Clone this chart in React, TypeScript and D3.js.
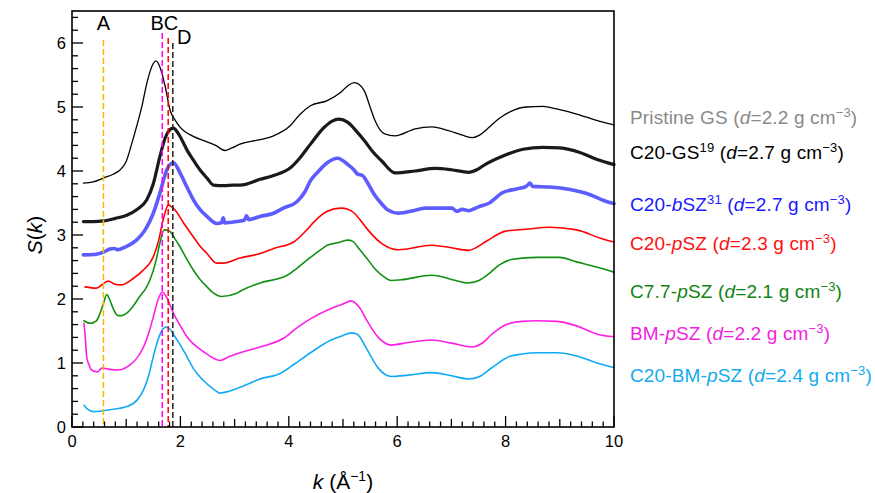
import React from "react";
import * as d3 from "d3";

type P = [number, number];

const pristineGS: P[] = [[0.21,3.81],[0.39,3.83],[0.58,3.89],[0.76,3.95],[0.89,4.02],[1.0,4.15],[1.1,4.42],[1.19,4.69],[1.3,5.05],[1.38,5.37],[1.5,5.68],[1.55,5.72],[1.62,5.63],[1.72,5.32],[1.81,4.95],[1.9,4.8],[1.99,4.69],[2.24,4.54],[2.48,4.46],[2.65,4.4],[2.82,4.32],[2.95,4.36],[3.1,4.42],[3.47,4.49],[3.72,4.55],[4.03,4.71],[4.2,4.88],[4.4,5.02],[4.71,5.1],[4.96,5.23],[5.1,5.34],[5.21,5.38],[5.3,5.35],[5.4,5.24],[5.5,5.0],[5.58,4.81],[5.77,4.58],[5.96,4.55],[6.33,4.66],[6.64,4.69],[6.95,4.63],[7.2,4.56],[7.39,4.52],[7.52,4.56],[7.68,4.67],[7.88,4.82],[8.07,4.92],[8.38,5.0],[8.69,5.01],[8.94,4.97],[9.31,4.89],[9.68,4.79],[10.0,4.72]];
const c20GS: P[] = [[0.21,3.21],[0.4,3.21],[0.58,3.22],[0.8,3.26],[1.01,3.31],[1.2,3.4],[1.38,3.55],[1.5,3.8],[1.62,4.22],[1.72,4.52],[1.8,4.64],[1.87,4.67],[1.95,4.6],[2.05,4.45],[2.12,4.33],[2.24,4.17],[2.36,4.02],[2.5,3.88],[2.61,3.78],[2.8,3.77],[2.98,3.78],[3.1,3.78],[3.47,3.87],[3.72,3.93],[4.03,4.05],[4.2,4.2],[4.4,4.42],[4.65,4.68],[4.8,4.78],[4.92,4.81],[5.09,4.76],[5.25,4.62],[5.4,4.47],[5.55,4.3],[5.71,4.16],[5.96,3.97],[6.33,4.0],[6.7,4.04],[7.0,4.02],[7.32,3.98],[7.47,4.02],[7.62,4.1],[7.94,4.23],[8.32,4.34],[8.69,4.37],[9.0,4.36],[9.37,4.29],[9.69,4.18],[10.0,4.1]];
const c20bSZ: P[] = [[0.21,2.69],[0.45,2.7],[0.6,2.74],[0.7,2.78],[0.78,2.79],[0.85,2.77],[1.0,2.82],[1.19,2.92],[1.35,3.08],[1.5,3.34],[1.62,3.65],[1.75,4.02],[1.87,4.13],[2.0,3.96],[2.12,3.75],[2.24,3.55],[2.36,3.4],[2.49,3.29],[2.67,3.18],[2.76,3.19],[2.79,3.27],[2.82,3.19],[3.04,3.21],[3.18,3.23],[3.22,3.3],[3.26,3.24],[3.47,3.29],[3.72,3.34],[3.9,3.42],[4.15,3.52],[4.3,3.68],[4.4,3.85],[4.52,3.97],[4.71,4.13],[4.9,4.2],[5.09,4.1],[5.2,4.02],[5.27,3.95],[5.36,3.93],[5.45,3.82],[5.58,3.63],[5.7,3.5],[5.83,3.39],[6.02,3.34],[6.3,3.38],[6.52,3.42],[6.8,3.42],[7.01,3.42],[7.1,3.37],[7.2,3.4],[7.32,3.38],[7.5,3.44],[7.7,3.5],[7.94,3.66],[8.2,3.72],[8.38,3.76],[8.45,3.81],[8.5,3.76],[8.81,3.75],[9.19,3.71],[9.56,3.63],[9.81,3.54],[10.0,3.49]];
const c20pSZ: P[] = [[0.24,2.19],[0.45,2.17],[0.58,2.24],[0.67,2.28],[0.79,2.23],[0.9,2.22],[1.13,2.32],[1.3,2.44],[1.5,2.66],[1.6,2.92],[1.68,3.23],[1.78,3.47],[1.85,3.43],[1.93,3.36],[2.05,3.2],[2.24,2.97],[2.36,2.83],[2.49,2.71],[2.67,2.56],[2.79,2.56],[3.1,2.64],[3.47,2.71],[3.72,2.79],[4.09,2.89],[4.3,3.05],[4.47,3.21],[4.71,3.37],[4.96,3.42],[5.1,3.4],[5.21,3.34],[5.35,3.2],[5.46,3.08],[5.71,2.87],[6.02,2.77],[6.64,2.84],[7.0,2.8],[7.32,2.76],[7.47,2.81],[7.66,2.91],[8.0,3.06],[8.38,3.09],[8.81,3.12],[9.31,3.08],[9.75,2.95],[10.0,2.89]];
const c77pSZ: P[] = [[0.22,1.66],[0.33,1.62],[0.45,1.66],[0.52,1.78],[0.58,1.93],[0.64,2.07],[0.7,1.98],[0.76,1.85],[0.85,1.74],[0.92,1.74],[1.01,1.78],[1.12,1.88],[1.25,2.04],[1.35,2.15],[1.44,2.3],[1.55,2.6],[1.62,2.87],[1.7,3.08],[1.8,3.06],[1.9,2.94],[1.99,2.82],[2.1,2.65],[2.24,2.45],[2.36,2.31],[2.49,2.19],[2.6,2.1],[2.76,2.04],[3.04,2.09],[3.1,2.12],[3.47,2.25],[3.97,2.37],[4.15,2.48],[4.34,2.61],[4.59,2.77],[4.71,2.84],[4.9,2.88],[5.09,2.92],[5.18,2.9],[5.3,2.78],[5.49,2.58],[5.58,2.48],[5.75,2.35],[5.89,2.29],[6.07,2.3],[6.64,2.37],[7.08,2.29],[7.29,2.25],[7.51,2.29],[7.7,2.4],[7.88,2.53],[8.13,2.62],[8.57,2.65],[9.0,2.65],[9.31,2.58],[9.68,2.5],[10.0,2.42]];
const bmpSZ: P[] = [[0.22,1.62],[0.25,1.35],[0.27,1.1],[0.31,0.98],[0.36,0.89],[0.47,0.86],[0.55,0.92],[0.7,0.9],[0.85,0.89],[1.07,0.97],[1.2,1.08],[1.32,1.25],[1.42,1.48],[1.5,1.72],[1.6,2.02],[1.67,2.11],[1.75,2.02],[1.87,1.78],[2.0,1.58],[2.12,1.41],[2.25,1.29],[2.42,1.18],[2.6,1.08],[2.73,1.04],[2.9,1.1],[3.1,1.16],[3.47,1.25],[3.91,1.39],[4.15,1.55],[4.4,1.69],[4.78,1.85],[5.0,1.92],[5.15,1.97],[5.3,1.87],[5.45,1.65],[5.65,1.4],[5.89,1.28],[6.2,1.32],[6.64,1.36],[7.0,1.31],[7.39,1.25],[7.55,1.3],[7.75,1.45],[8.01,1.6],[8.3,1.65],[8.57,1.66],[8.94,1.65],[9.31,1.58],[9.69,1.45],[10.0,1.41]];
const c20bmpSZ: P[] = [[0.22,0.34],[0.3,0.27],[0.39,0.24],[0.55,0.25],[0.7,0.27],[1.01,0.32],[1.2,0.42],[1.32,0.58],[1.42,0.82],[1.5,1.1],[1.62,1.44],[1.73,1.56],[1.82,1.52],[1.9,1.41],[2.0,1.28],[2.12,1.1],[2.25,0.9],[2.42,0.73],[2.6,0.6],[2.73,0.53],[2.9,0.56],[3.1,0.62],[3.47,0.75],[3.85,0.84],[4.1,0.98],[4.4,1.16],[4.78,1.36],[5.0,1.43],[5.15,1.47],[5.26,1.45],[5.45,1.2],[5.65,0.92],[5.89,0.79],[6.2,0.81],[6.64,0.85],[7.0,0.8],[7.32,0.75],[7.52,0.79],[7.75,0.93],[8.07,1.1],[8.3,1.14],[8.57,1.16],[8.94,1.16],[9.31,1.11],[9.69,1.0],[10.0,0.93]];

const seriesNames = ["Pristine GS", "C20-GS", "C20-bSZ", "C20-pSZ", "C7.7-pSZ", "BM-pSZ", "C20-BM-pSZ"];
const seriesData = [pristineGS, c20GS, c20bSZ, c20pSZ, c77pSZ, bmpSZ, c20bmpSZ];
const lineColors = ["#000000", "#1a1a1a", "#5c5cff", "#ff0000", "#129012", "#ff1ee6", "#12aaf5"];
const labelColors = ["#8a8a8a", "#000000", "#1a1aff", "#ff1010", "#128412", "#f01ee0", "#12aaf0"];
const lineWidths = [1.3, 3.2, 3.6, 1.6, 1.6, 1.6, 1.6];
const densities = ["2.2", "2.7", "2.7", "2.3", "2.1", "2.2", "2.4"];
const labelBaselines = [124, 159, 211, 250, 298, 340, 382];

const markerK = [0.58, 1.665, 1.775, 1.86];
const markerColors = ["#ffb300", "#ff00ff", "#ff0000", "#222222"];
const markerTops = [40, 33, 38, 43];

const xTicks = [0, 2, 4, 6, 8, 10];
const yTicks = [0, 1, 2, 3, 4, 5, 6];

const FONT = "'Liberation Sans', Arial, Helvetica, sans-serif";
const LFS = 19;
const SUP = 13;

function Label({ i }: { i: number }) {
  const name = seriesNames[i];
  const c = labelColors[i];
  let nameParts: React.ReactNode;
  if (name === "C20-GS") {
    nameParts = (<>C20-GS<tspan fontSize={SUP} dy="-7">19</tspan><tspan dy="7"> (</tspan></>);
  } else if (name === "C20-bSZ") {
    nameParts = (<>C20-<tspan fontStyle="italic">b</tspan>SZ<tspan fontSize={SUP} dy="-7">31</tspan><tspan dy="7"> (</tspan></>);
  } else if (name.endsWith("pSZ")) {
    const pre = name.slice(0, name.length - 3);
    nameParts = (<>{pre}<tspan fontStyle="italic">p</tspan>SZ (</>);
  } else {
    nameParts = (<>{name} (</>);
  }
  return (
    <text x={630} y={labelBaselines[i]} fill={c} fontSize={LFS} fontFamily={FONT} letterSpacing="0.15">
      {nameParts}
      <tspan fontStyle="italic">d</tspan>={densities[i]} g cm
      <tspan fontSize={SUP} dy="-7">−3</tspan>
      <tspan dy="7">)</tspan>
    </text>
  );
}

export default function App() {
  const W = 875, H = 493;
  const x = d3.scaleLinear().domain([0, 10]).range([72, 614]);
  const y = d3.scaleLinear().domain([0, 6.5]).range([427, 11]);
  const line = d3.line<P>().x(d => x(d[0])).y(d => y(d[1])).curve(d3.curveMonotoneX);

  const xMinor = d3.range(0, 10.001, 0.2).map(v => Math.round(v * 10) / 10);
  const yMinor = d3.range(0, 6.4001, 0.2).map(v => Math.round(v * 10) / 10);

  return (
    <svg width={W} height={H} style={{ position: "fixed", left: 0, top: 0, background: "#fff" }} fontFamily={FONT}>
      <rect x={0} y={0} width={W} height={H} fill="#fff" />
      {seriesData.map((d, i) => (
        <path key={i} d={line(d) || ""} fill="none" stroke={lineColors[i]} strokeWidth={lineWidths[i]} strokeLinejoin="round" strokeLinecap="round" />
      ))}
      {markerK.map((k, i) => (
        <line key={i} x1={x(k)} x2={x(k)} y1={markerTops[i]} y2={y(0)} stroke={markerColors[i]} strokeWidth={1.5} strokeDasharray="6,3" />
      ))}
      <text x={x(markerK[0])} y={29.5} fontSize="20" textAnchor="middle" fontFamily={FONT}>A</text>
      <text x={150.5} y={29.5} fontSize="20" fontFamily={FONT}>BC</text>
      <text x={177} y={43.5} fontSize="20" fontFamily={FONT}>D</text>
      <rect x={x(0)} y={y(6.5)} width={x(10) - x(0)} height={y(0) - y(6.5)} fill="none" stroke="#000" strokeWidth={1.6} />
      {xMinor.map((v, i) => {
        const len = Math.abs(v % 2) < 1e-6 ? 11 : Math.abs(v % 1) < 1e-6 ? 8 : 5.5;
        return <line key={i} x1={x(v)} x2={x(v)} y1={y(0)} y2={y(0) - len} stroke="#000" strokeWidth={1.3} />;
      })}
      {yMinor.map((v, i) => {
        const len = Math.abs(v % 1) < 1e-6 ? 11 : 6;
        return <line key={i} x1={x(0)} x2={x(0) + len} y1={y(v)} y2={y(v)} stroke="#000" strokeWidth={1.3} />;
      })}
      {xTicks.map(v => (
        <text key={v} x={x(v)} y={447} fontSize="16.5" textAnchor="middle" fontFamily={FONT}>{v}</text>
      ))}
      {yTicks.map(v => (
        <text key={v} x={66} y={y(v) + 6} fontSize="16.5" textAnchor="end" fontFamily={FONT}>{v}</text>
      ))}
      <text x={343} y={489} fontSize="21" textAnchor="middle" fontFamily={FONT}>
        <tspan fontStyle="italic">k</tspan> (Å<tspan fontSize="14" dy="-8">−1</tspan><tspan dy="8">)</tspan>
      </text>
      <text transform={`translate(42,${y(3.0)}) rotate(-90)`} fontSize="21" textAnchor="middle" fontFamily={FONT}>
        <tspan fontStyle="italic">S</tspan>(<tspan fontStyle="italic">k</tspan>)
      </text>
      {seriesNames.map((_, i) => <Label key={i} i={i} />)}
    </svg>
  );
}
